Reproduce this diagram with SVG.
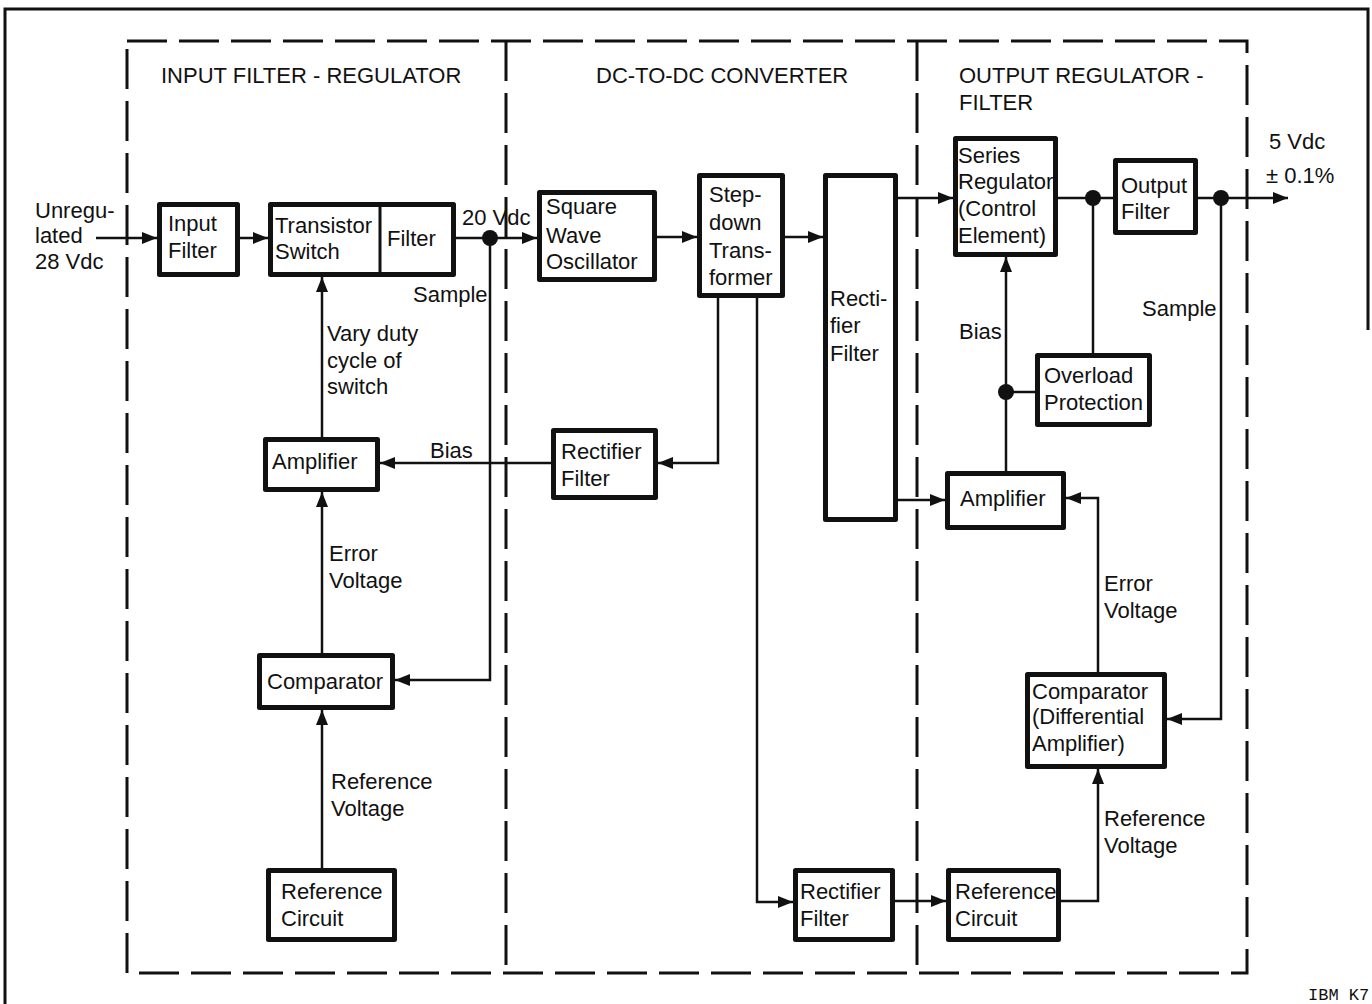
<svg xmlns="http://www.w3.org/2000/svg" width="1372" height="1004" viewBox="0 0 1372 1004">
<style>
text{font-family:"Liberation Sans",Arial,sans-serif;font-size:22px;fill:#111}
.box{fill:#fff;stroke:#111;stroke-width:5;stroke-linejoin:round}
.ln{fill:none;stroke:#111;stroke-width:2.5}
.arr{fill:none;stroke:#111;stroke-width:2.5;marker-end:url(#ah)}
.dash{fill:none;stroke:#111;stroke-width:3;stroke-dasharray:40 12}
.dot{fill:#111}
.mono{font-family:"Liberation Mono","Courier New",monospace;font-size:17px}
</style>
<defs>
<marker id="ah" markerUnits="userSpaceOnUse" markerWidth="16" markerHeight="12" refX="15" refY="6" orient="auto">
<path d="M0,0 L15,6 L0,12 z" fill="#111"/>
</marker>
</defs>
<rect width="1372" height="1004" fill="#fff"/>
<g id="frame">
<path d="M5,1004 V9 H1368 V330" fill="none" stroke="#111" stroke-width="3"/>
<path class="dash" d="M127,41 H1247 V973 H127 Z"/>
<path class="dash" d="M506,41 V973"/>
<path class="dash" d="M917,41 V973"/>
</g>
<g id="titles">
<text x="161" y="83">INPUT FILTER - REGULATOR</text>
<text x="596" y="83">DC-TO-DC CONVERTER</text>
<text x="959" y="83">OUTPUT REGULATOR -</text>
<text x="959" y="110">FILTER</text>
</g>
<g id="connectors">
<path class="arr" d="M96,238 H157"/>
<path class="arr" d="M240,238 H268"/>
<path class="arr" d="M456,238 H537"/>
<path class="arr" d="M657,237 H697"/>
<path class="arr" d="M785,237 H823"/>
<path class="arr" d="M898,198 H953"/>
<path class="ln" d="M1058,198 H1113"/>
<path class="arr" d="M1198,198 H1288"/>
<path class="ln" d="M1093,198 V353"/>
<path class="arr" d="M1221,198 V719 H1167"/>
<path class="arr" d="M1006,471 V257"/>
<path class="ln" d="M1006,392 H1035"/>
<path class="arr" d="M898,500 H945"/>
<path class="arr" d="M1098,672 V498 H1066"/>
<path class="arr" d="M1061,901 H1098 V769"/>
<path class="arr" d="M895,901 H946"/>
<path class="arr" d="M757,298 V902 H793"/>
<path class="arr" d="M718,298 V463 H658"/>
<path class="arr" d="M551,463 H380"/>
<path class="arr" d="M322,437 V277"/>
<path class="arr" d="M490,238 V680 H395"/>
<path class="arr" d="M322,653 V492"/>
<path class="arr" d="M322,868 V710"/>
<circle class="dot" cx="490" cy="238" r="8"/>
<circle class="dot" cx="1093" cy="198" r="8"/>
<circle class="dot" cx="1221" cy="198" r="8"/>
<circle class="dot" cx="1006" cy="392" r="8"/>
</g>
<g id="labels">
<text x="35" y="218">Unregu-</text>
<text x="35" y="243">lated</text>
<text x="35" y="269">28 Vdc</text>
<text x="462" y="225">20 Vdc</text>
<text x="413" y="302">Sample</text>
<text x="327" y="341">Vary duty</text>
<text x="327" y="368">cycle of</text>
<text x="327" y="394">switch</text>
<text x="430" y="458">Bias</text>
<text x="329" y="561">Error</text>
<text x="329" y="588">Voltage</text>
<text x="331" y="789">Reference</text>
<text x="331" y="816">Voltage</text>
<text x="1269" y="149">5 Vdc</text>
<text x="1266" y="183">± 0.1%</text>
<text x="1142" y="316">Sample</text>
<text x="959" y="339">Bias</text>
<text x="1104" y="591">Error</text>
<text x="1104" y="618">Voltage</text>
<text x="1104" y="826">Reference</text>
<text x="1104" y="853">Voltage</text>
<text class="mono" x="1308" y="1000">IBM K7</text>
</g>
<g id="input-filter">
<rect class="box" x="159.5" y="204.5" width="78" height="70"/>
<text x="168" y="231">Input</text>
<text x="168" y="258">Filter</text>
</g>
<g id="transistor-switch-filter">
<rect class="box" x="270.5" y="204.5" width="183" height="70"/>
<path d="M380,205 V274" stroke="#111" stroke-width="3"/>
<text x="275" y="233">Transistor</text>
<text x="275" y="259">Switch</text>
<text x="387" y="246">Filter</text>
</g>
<g id="square-wave-oscillator">
<rect class="box" x="539.5" y="192.5" width="115" height="87"/>
<text x="546" y="214">Square</text>
<text x="546" y="243">Wave</text>
<text x="546" y="269">Oscillator</text>
</g>
<g id="stepdown-transformer">
<rect class="box" x="699.5" y="175.5" width="83" height="120"/>
<text x="709" y="202">Step-</text>
<text x="709" y="230">down</text>
<text x="709" y="258">Trans-</text>
<text x="709" y="285">former</text>
</g>
<g id="rectifier-filter-main">
<rect class="box" x="825.5" y="175.5" width="70" height="344"/>
<text x="830" y="306">Recti-</text>
<text x="830" y="333">fier</text>
<text x="830" y="361">Filter</text>
</g>
<g id="series-regulator">
<rect class="box" x="955.5" y="138.5" width="100" height="116"/>
<text x="958" y="163">Series</text>
<text x="958" y="189">Regulator</text>
<text x="958" y="216">(Control</text>
<text x="958" y="243">Element)</text>
</g>
<g id="output-filter">
<rect class="box" x="1115.5" y="160.5" width="80" height="72"/>
<text x="1121" y="193">Output</text>
<text x="1121" y="219">Filter</text>
</g>
<g id="overload-protection">
<rect class="box" x="1037.5" y="355.5" width="112" height="69"/>
<text x="1044" y="383">Overload</text>
<text x="1044" y="410">Protection</text>
</g>
<g id="amplifier-output">
<rect class="box" x="947.5" y="473.5" width="116" height="54"/>
<text x="960" y="506">Amplifier</text>
</g>
<g id="comparator-differential">
<rect class="box" x="1027.5" y="674.5" width="137" height="92"/>
<text x="1032" y="699">Comparator</text>
<text x="1032" y="724">(Differential</text>
<text x="1032" y="751">Amplifier)</text>
</g>
<g id="reference-circuit-output">
<rect class="box" x="948.5" y="870.5" width="110" height="69"/>
<text x="955" y="899">Reference</text>
<text x="955" y="926">Circuit</text>
</g>
<g id="rectifier-filter-ref">
<rect class="box" x="795.5" y="870.5" width="97" height="69"/>
<text x="800" y="899">Rectifier</text>
<text x="800" y="926">Filter</text>
</g>
<g id="rectifier-filter-bias">
<rect class="box" x="553.5" y="430.5" width="102" height="67"/>
<text x="561" y="459">Rectifier</text>
<text x="561" y="486">Filter</text>
</g>
<g id="amplifier-input">
<rect class="box" x="265.5" y="439.5" width="112" height="50"/>
<text x="272" y="469">Amplifier</text>
</g>
<g id="comparator-input">
<rect class="box" x="259.5" y="655.5" width="133" height="52"/>
<text x="267" y="689">Comparator</text>
</g>
<g id="reference-circuit-input">
<rect class="box" x="268.5" y="870.5" width="126" height="69"/>
<text x="281" y="899">Reference</text>
<text x="281" y="926">Circuit</text>
</g>
</svg>
